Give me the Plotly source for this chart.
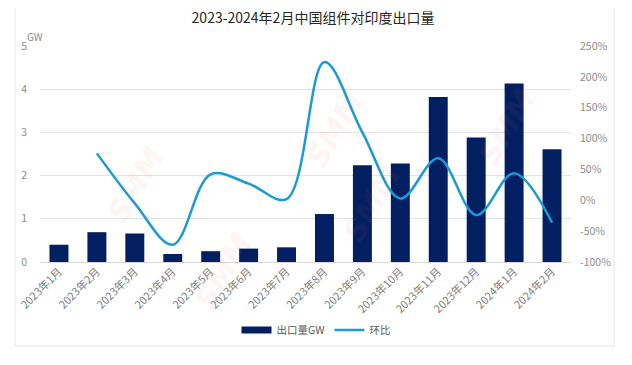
import plotly.graph_objects as go

months = ["2023年1月", "2023年2月", "2023年3月", "2023年4月", "2023年5月", "2023年6月",
          "2023年7月", "2023年8月", "2023年9月", "2023年10月", "2023年11月", "2023年12月",
          "2024年1月", "2024年2月"]
export_gw = [0.40, 0.69, 0.66, 0.185, 0.25, 0.31, 0.34, 1.11, 2.24, 2.28, 3.82, 2.88, 4.13, 2.61]
mom_pct = [None, 76, -5, -72, 42, 27, 2, 224, 110, 3, 68, -24, 44, -36]

left_ticks = [0, 1, 2, 3, 4, 5]
right_ticks = [-100, -50, 0, 50, 100, 150, 200, 250]
right_labels = ["-100%", "-50%", "0%", "50%", "100%", "150%", "200%", "250%"]

OFF = 8  # page body margin
W, H = 624, 357
L, T = 40 - OFF, 46 - OFF
R = W - (571 - OFF)
B = H - (262 - OFF)
pw, ph = W - L - R, H - T - B

def px(x):
    return (x - OFF - L) / pw

def py(y):
    return (H - B - (y - OFF)) / ph

font_fam = "Noto Sans CJK SC, Noto Sans, sans-serif"
BAR_COLOR = "#022061"

fig = go.Figure()
fig.add_trace(go.Bar(
    x=months, y=export_gw, name="出口量GW",
    marker=dict(color=BAR_COLOR, line=dict(width=0)),
    width=0.5, yaxis="y", showlegend=False, legendgroup="gw",
))
# legend-only entry giving the wide rectangular swatch
fig.add_trace(go.Scatter(
    x=[None], y=[None], name="出口量GW", mode="lines",
    line=dict(color=BAR_COLOR, width=7), legendgroup="gw",
))
fig.add_trace(go.Scatter(
    x=months, y=mom_pct, name="环比", mode="lines",
    line=dict(color="#1a9ad6", width=2.5, shape="spline", smoothing=1.0),
    yaxis="y2",
))

annotations = [
    dict(text="GW", x=px(25), y=py(27), xref="paper", yref="paper",
         showarrow=False, font=dict(size=10, color="#8c8c8c", family=font_fam)),
]
# faint SMM watermarks
for (wx, wy) in [(97, 185), (335, 130), (545, 80), (410, 250), (185, 318)]:
    annotations.append(dict(text="<b><i>SMM</i></b>", x=px(wx), y=py(wy), xref="paper", yref="paper",
                            showarrow=False, textangle=-60,
                            font=dict(size=30, color="rgba(235,90,90,0.08)", family="DejaVu Sans")))

fig.update_layout(
    width=W, height=H,
    margin=dict(l=L, r=R, t=T, b=B, autoexpand=False),
    paper_bgcolor="white", plot_bgcolor="white",
    font=dict(family=font_fam, color="#595959"),
    title=dict(text="2023-2024年2月中国组件对印度出口量", x=px(313), xanchor="center",
               xref="paper", y=1 - (18 - OFF) / H, yanchor="middle",
               font=dict(size=14, color="#262626", family=font_fam)),
    xaxis=dict(tickangle=-45, tickfont=dict(size=11, color="#7f7f7f"), automargin=False,
               showgrid=False, showline=False, ticks="", range=[-0.5, 13.5]),
    yaxis=dict(range=[0, 5], tickvals=left_ticks, showgrid=True, gridcolor="#e3e3e3",
               gridwidth=1, zeroline=True, zerolinecolor="#d9d9d9", zerolinewidth=1,
               automargin=False,
               tickfont=dict(size=10.5, color="#8c8c8c"), ticklabelstandoff=12),
    yaxis2=dict(range=[-100, 250], tickvals=right_ticks, ticktext=right_labels, overlaying="y",
                side="right", showgrid=False, zeroline=False, automargin=False,
                tickfont=dict(size=10.5, color="#8c8c8c"), ticklabelstandoff=8),
    legend=dict(orientation="h", x=px(316), xanchor="center", y=py(330), yanchor="middle",
                font=dict(size=10.5, color="#595959"), itemwidth=30, tracegroupgap=0),
    bargap=0.5,
    annotations=annotations,
    shapes=[dict(type="rect", xref="paper", yref="paper",
                 x0=px(15), x1=px(614), y0=py(346), y1=py(4),
                 line=dict(color="#e6e6e6", width=1), fillcolor="rgba(0,0,0,0)", layer="below")],
)

fig.write_html("out.html")
